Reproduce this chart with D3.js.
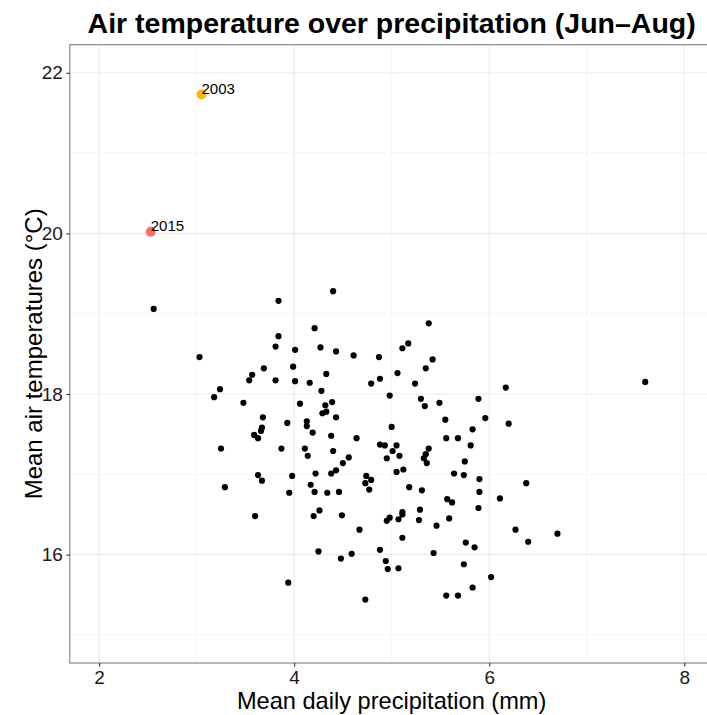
<!DOCTYPE html>
<html>
<head>
<meta charset="utf-8">
<script src="https://cdn.jsdelivr.net/npm/d3@7"></script>
<style>
  html, body { margin: 0; padding: 0; background: #fff; }
  svg text { font-family: "Liberation Sans", Arial, Helvetica, sans-serif; }
</style>
</head>
<body>
<div id="chart"></div>
<script>
// Summer (Jun-Aug) means, one point per year
const precip = [2.56,3.84,3.84,3.81,4.01,3.03,3.69,3.99,3.57,3.54,
  3.81,4.01,3.24,3.18,3.48,3.68,3.93,3.67,3.66,3.59,
  3.63,3.25,3.87,3.63,3.98,3.67,4.40,4.21,5.38,4.27,
  4.43,4.61,4.87,5.17,5.11,5.42,5.35,4.16,4.33,4.28,
  4.79,4.88,5.06,5.24,4.98,5.30,5.34,5.49,5.89,4.06,
  4.32,4.39,4.33,4.29,4.43,4.13,4.13,4.19,4.38,4.64,
  5.00,5.55,5.83,5.56,5.68,4.11,4.14,4.40,4.88,4.93,
  5.05,5.01,5.08,4.95,5.38,5.35,5.33,5.36,5.81,5.75,
  4.56,4.50,4.22,4.38,4.43,4.74,4.79,5.05,5.12,5.64,
  5.74,5.90,7.60,6.17,5.96,6.20,3.29,3.95,3.60,3.94,
  4.73,4.77,5.90,5.89,4.17,4.21,4.34,4.46,5.18,5.31,
  5.57,5.62,4.20,4.26,4.49,4.95,4.98,5.07,5.11,5.11,
  5.29,5.28,5.59,5.46,4.67,5.11,4.25,4.48,4.59,4.88,
  4.94,4.96,5.07,5.43,5.76,5.85,5.74,5.56,5.68,5.83,
  4.73,6.38,6.11,6.27,6.40,6.70,6.02];
const temp = [19.06,19.16,18.72,18.59,18.55,18.46,18.32,18.34,18.24,18.17,
  18.17,18.16,18.06,17.96,17.89,17.71,17.64,17.58,17.54,17.49,
  17.45,17.32,17.32,16.99,16.98,16.92,19.28,18.82,18.88,18.58,
  18.53,18.48,18.46,18.63,18.57,18.43,18.32,18.14,18.25,18.04,
  18.13,18.19,18.26,18.13,17.98,17.94,17.85,17.89,17.94,17.88,
  17.86,17.90,17.78,17.76,17.71,17.66,17.60,17.52,17.48,17.45,
  17.59,17.68,17.56,17.45,17.45,17.32,17.23,17.29,17.37,17.36,
  17.36,17.29,17.23,17.20,17.32,17.25,17.20,17.14,17.36,17.16,
  17.21,17.14,17.01,17.01,17.05,16.98,16.93,17.03,17.06,17.01,
  16.99,16.94,18.15,18.08,17.70,17.63,16.84,16.77,16.48,15.65,
  16.89,16.81,16.78,16.58,16.87,16.78,16.77,16.78,16.84,16.80,
  16.69,16.65,16.48,16.55,16.49,16.42,16.46,16.44,16.53,16.50,
  16.56,16.43,16.45,16.36,16.31,16.21,16.04,15.95,16.01,16.06,
  15.92,15.82,15.83,16.02,16.15,16.09,15.88,15.49,15.49,15.59,
  15.44,16.89,16.70,16.31,16.16,16.26,15.72];

// highlighted years
const hotYears = ['2003', '2015'];
const hotPrecip = [3.05, 2.53];
const hotTemp = [21.73, 20.02];
const hotColors = ['#FDB515', '#F9705E'];

const xTicks = [2, 4, 6, 8];
const xMinor = [3, 5, 7];
const yTicks = [16, 18, 20, 22];
const yMinor = [15, 17, 19, 21];

const W = 707, H = 715;
const pLeft = 69.8, pRight = 713.5, pTop = 44.7, pBottom = 663;

const x = d3.scaleLinear().domain([1.7, 8.3]).range([pLeft, pRight]);
const y = d3.scaleLinear().domain([14.65, 22.35]).range([pBottom, pTop]);

const svg = d3.select('#chart').append('svg')
  .attr('width', W).attr('height', H);

svg.append('clipPath').attr('id', 'panel')
  .append('rect')
  .attr('x', pLeft).attr('y', pTop)
  .attr('width', pRight - pLeft).attr('height', pBottom - pTop);

const panel = svg.append('g').attr('clip-path', 'url(#panel)');

// grid
panel.selectAll('.xminor').data(xMinor).enter().append('line')
  .attr('x1', d => x(d)).attr('x2', d => x(d))
  .attr('y1', pTop).attr('y2', pBottom)
  .attr('stroke', '#F4F4F4').attr('stroke-width', 0.8);
panel.selectAll('.yminor').data(yMinor).enter().append('line')
  .attr('y1', d => y(d)).attr('y2', d => y(d))
  .attr('x1', pLeft).attr('x2', pRight)
  .attr('stroke', '#F4F4F4').attr('stroke-width', 0.8);
panel.selectAll('.xmajor').data(xTicks).enter().append('line')
  .attr('x1', d => x(d)).attr('x2', d => x(d))
  .attr('y1', pTop).attr('y2', pBottom)
  .attr('stroke', '#EBEBEB').attr('stroke-width', 1.1);
panel.selectAll('.ymajor').data(yTicks).enter().append('line')
  .attr('y1', d => y(d)).attr('y2', d => y(d))
  .attr('x1', pLeft).attr('x2', pRight)
  .attr('stroke', '#EBEBEB').attr('stroke-width', 1.1);

// points
const pts = precip.map((p, i) => ({ p: p, t: temp[i] }));
panel.selectAll('.pt').data(pts).enter().append('circle')
  .attr('cx', d => x(d.p)).attr('cy', d => y(d.t))
  .attr('r', 3.1).attr('fill', '#000');

const hot = hotYears.map((yr, i) => ({ yr: yr, p: hotPrecip[i], t: hotTemp[i], c: hotColors[i] }));
panel.selectAll('.hot').data(hot).enter().append('circle')
  .attr('cx', d => x(d.p)).attr('cy', d => y(d.t))
  .attr('r', 5).attr('fill', d => d.c);
panel.selectAll('.lab').data(hot).enter().append('text')
  .attr('x', d => x(d.p)).attr('y', d => y(d.t) - 0.5)
  .attr('font-size', 15).attr('fill', '#000')
  .text(d => d.yr);

// panel border
svg.append('rect')
  .attr('x', pLeft).attr('y', pTop)
  .attr('width', pRight - pLeft).attr('height', pBottom - pTop)
  .attr('fill', 'none').attr('stroke', '#7F7F7F').attr('stroke-width', 1.1);

// axes
const xAxis = svg.append('g')
  .attr('transform', `translate(0,${pBottom})`)
  .call(d3.axisBottom(x).tickValues(xTicks).tickFormat(d3.format('d'))
    .tickSize(3.5).tickPadding(4));
const yAxis = svg.append('g')
  .attr('transform', `translate(${pLeft},0)`)
  .call(d3.axisLeft(y).tickValues(yTicks).tickFormat(d3.format('d'))
    .tickSize(3.5).tickPadding(3.5));
[xAxis, yAxis].forEach(a => {
  a.select('.domain').remove();
  a.selectAll('line').attr('stroke', '#333').attr('stroke-width', 1.1);
  a.selectAll('text').attr('font-size', 19).attr('fill', '#1a1a1a')
    .attr('font-family', '"Liberation Sans", Arial, sans-serif');
});

// titles
svg.append('text')
  .attr('x', (pLeft + pRight) / 2).attr('y', 33)
  .attr('text-anchor', 'middle')
  .attr('font-size', 28.5).attr('font-weight', 'bold')
  .text('Air temperature over precipitation (Jun\u2013Aug)');

svg.append('text')
  .attr('x', (pLeft + pRight) / 2).attr('y', 709)
  .attr('text-anchor', 'middle')
  .attr('font-size', 23.6)
  .text('Mean daily precipitation (mm)');

svg.append('text')
  .attr('transform', `translate(42,${(pTop + pBottom) / 2}) rotate(-90)`)
  .attr('text-anchor', 'middle')
  .attr('font-size', 24)
  .text('Mean air temperatures (\u00B0C)');
</script>
</body>
</html>
